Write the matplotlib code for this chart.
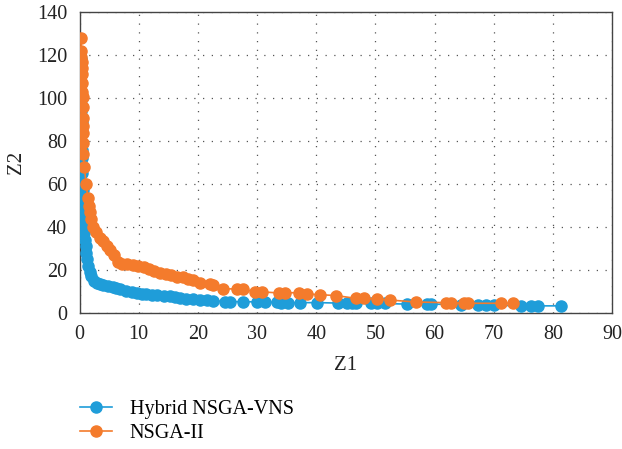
import matplotlib
matplotlib.use("Agg")
import matplotlib.pyplot as plt

hybrid_z1 = [0.2, 0.2, 0.25, 0.25, 0.3, 0.3, 0.3, 0.35, 0.35, 0.35, 0.4, 0.4, 0.4, 0.45, 0.45, 0.5, 0.5, 0.55, 0.6, 0.7, 0.8, 0.9, 1.0, 1.1, 1.3, 1.5, 1.7, 2.0, 2.4, 2.9, 3.5, 4.0, 4.8, 5.6, 6.2, 6.8, 7.9, 8.8, 9.7, 10.5, 11.3, 12.2, 13.0, 14.2, 15.3, 16.2, 17.0, 18.0, 19.2, 20.4, 21.5, 22.6, 24.6, 25.5, 27.7, 29.9, 31.4, 33.3, 34.1, 35.2, 37.3, 40.2, 43.7, 45.2, 46.1, 46.7, 49.2, 50.3, 51.7, 55.4, 58.8, 59.4, 64.5, 67.3, 68.7, 70.1, 74.6, 76.3, 77.4, 81.4]
hybrid_z2 = [118, 116, 112, 107, 103, 99, 94, 89, 84, 79, 76, 72, 68, 65, 60, 57, 53, 49, 45, 41, 37, 34, 31, 28, 25, 22, 19, 17, 15, 14, 13.5, 13, 12.5, 12.2, 11.6, 11, 10, 9.6, 9.3, 8.9, 8.6, 8.3, 8.2, 7.9, 7.8, 7.4, 7, 6.6, 6.3, 5.9, 5.8, 5.7, 5.3, 5.3, 5.2, 5.2, 5.1, 4.9, 4.8, 4.8, 4.8, 4.8, 4.6, 4.6, 4.6, 4.6, 4.4, 4.4, 4.4, 4.1, 4.1, 4.1, 3.9, 3.6, 3.6, 3.6, 3.3, 3.3, 3.3, 3.3]

nsga_z1 = [0.2, 0.3, 0.3, 0.35, 0.35, 0.4, 0.4, 0.45, 0.5, 0.5, 0.5, 0.55, 0.55, 0.6, 0.6, 0.8, 1.1, 1.4, 1.6, 1.75, 2.0, 2.3, 2.8, 3.5, 4.0, 4.6, 5.1, 5.8, 6.5, 7.2, 8.0, 9.0, 9.8, 10.8, 11.8, 12.6, 13.6, 14.6, 15.5, 16.4, 17.4, 18.3, 19.2, 20.4, 22.0, 22.6, 24.3, 26.6, 27.7, 29.7, 30.9, 33.7, 34.8, 37.0, 38.5, 40.6, 43.3, 46.7, 48.0, 50.3, 52.5, 56.8, 61.9, 62.7, 65.0, 65.6, 71.2, 73.2]
nsga_z2 = [128, 122, 119, 117, 114, 111, 107, 103, 100.6, 96, 90.7, 87, 83.6, 79, 74, 68, 60, 53.5, 50, 47, 43.5, 40, 37.5, 35, 33.5, 31, 29.5, 27, 23.5, 23, 23, 22.5, 22, 21.5, 20.5, 19.5, 18.6, 18, 17.5, 16.9, 16.5, 16, 15.3, 14, 13.4, 13, 11.2, 11.2, 11, 9.8, 9.8, 9.3, 9.3, 9.5, 8.8, 8.5, 8.1, 6.8, 6.8, 6.5, 6.0, 5.1, 4.8, 4.8, 4.5, 4.5, 4.5, 4.5]

x_ticks = [0, 10, 20, 30, 40, 50, 60, 70, 80, 90]
y_ticks = [0, 20, 40, 60, 80, 100, 120, 140]

plt.rcParams['font.family'] = ['Liberation Serif', 'DejaVu Serif']

fig = plt.figure(figsize=(6.22, 4.49), dpi=100)
ax = fig.add_axes([0.128, 0.303, 0.856, 0.670])

blue = '#1f9dd9'
orange = '#f47b2c'
ax.plot(hybrid_z1, hybrid_z2, '-o', color=blue, markersize=8, linewidth=1.2,
        label='Hybrid NSGA-VNS', zorder=3)
ax.plot(nsga_z1, nsga_z2, '-o', color=orange, markersize=8, linewidth=1.2,
        label='NSGA-II', zorder=4)

ax.set_xlim(0, 90)
ax.set_ylim(0, 140)
ax.set_xticks(x_ticks)
ax.set_yticks(y_ticks)
ax.tick_params(length=0, labelsize=14.5, colors='#222222')
ax.tick_params(axis='y', pad=9)
ax.tick_params(axis='x', pad=9)
ax.grid(True, color='#555555', linestyle=(0, (1, 6)), linewidth=0.9)
for s in ax.spines.values():
    s.set_color('#444444')
    s.set_linewidth(1.0)
ax.set_xlabel('Z1', fontsize=15, color='#222222', labelpad=8)
ax.set_ylabel('Z2', fontsize=15, color='#222222', labelpad=8)

fig.legend(loc='upper left', bbox_to_anchor=(0.115, 0.128), frameon=False,
           fontsize=14.5, handlelength=1.6, handletextpad=0.9, labelspacing=0.25,
           borderaxespad=0)

fig.savefig('out.png', dpi=100)
